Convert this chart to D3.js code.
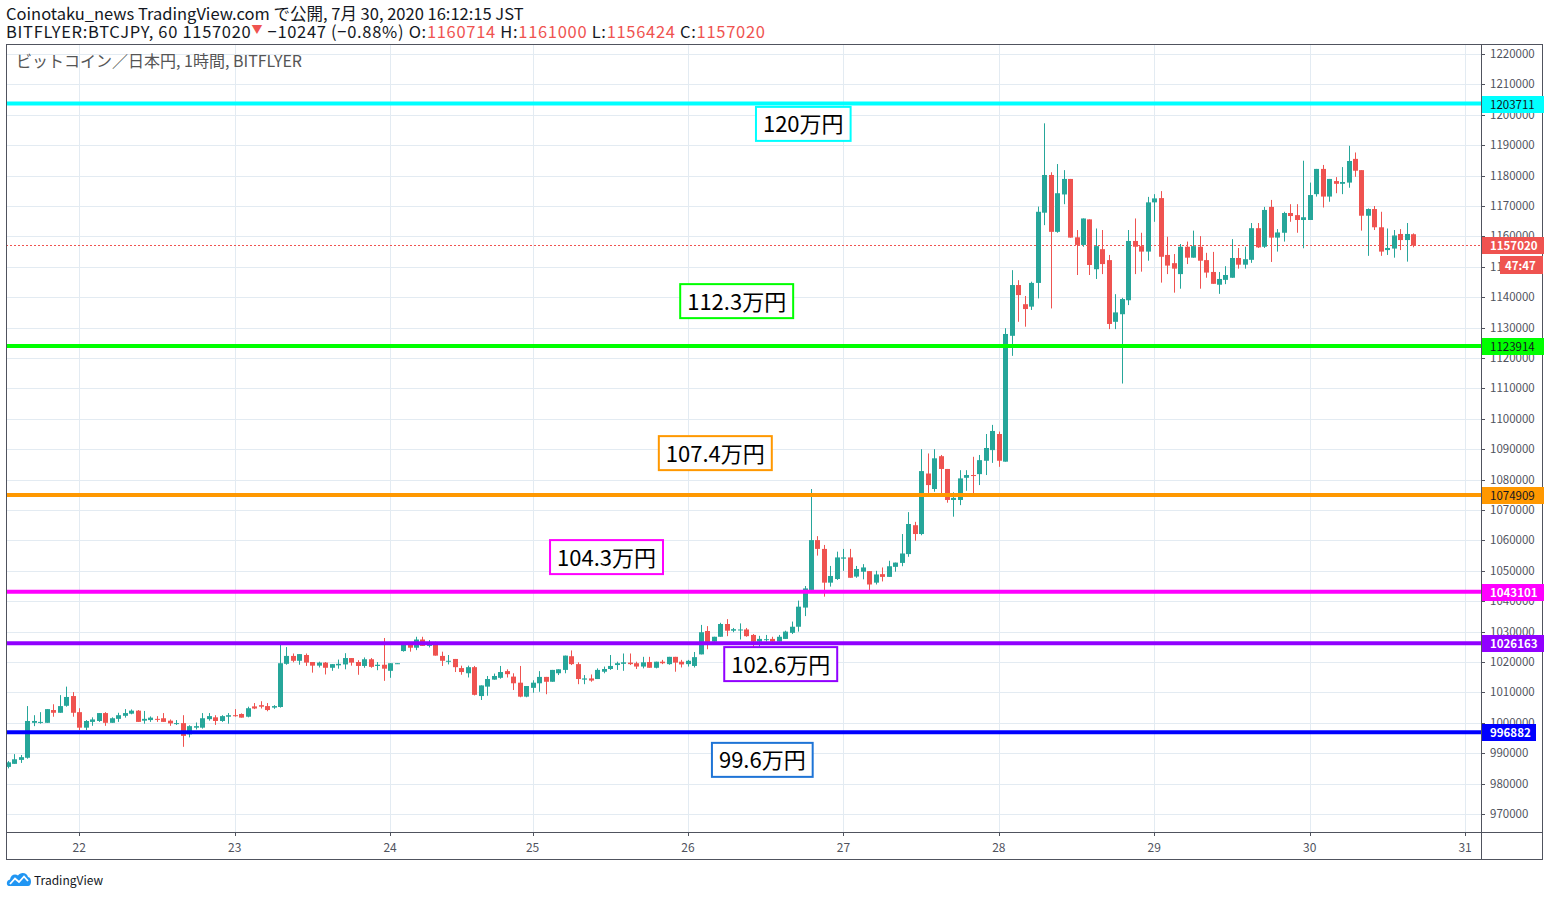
<!DOCTYPE html>
<html>
<head>
<meta charset="utf-8">
<script src="https://cdn.jsdelivr.net/npm/d3@7"></script>
<style>
body { margin: 0; background: #fff; }
svg { display: block; font-family: "Noto Sans CJK JP", "Noto Sans", sans-serif; }
</style>
</head>
<body>
<svg id="chart" width="1550" height="898"></svg>
<script>
// hourly candles, BITFLYER:BTCJPY, 21 Jul 13:00 .. 30 Jul 16:00 (JST)
var opens = [
  985500, 986500, 987800, 988500, 1000000, 1000000, 1000000, 1004200, 1003300, 1005600, 1008800,
  1003500, 998400, 1000300, 1000600, 1003200, 1000000, 1001300, 1002300, 1003000, 1004000, 1000700, 1000900, 1001300, 1001500, 1000700, 999600, 999900, 996200, 998400, 998400, 1001200, 1001800, 1000600, 1002000,
  1002500, 1002900, 1002000, 1005400, 1005800, 1005500, 1005000, 1005200, 1019400, 1022000, 1020400, 1022300, 1020000, 1018800, 1019800, 1018100, 1018900, 1019200, 1021300, 1020000, 1018700, 1020900, 1018700, 1019100,
  1017100, 1019400, 1023600, 1026100, 1024700, 1027400, 1025300, 1025600, 1022000, 1020200, 1021000, 1018000, 1016300, 1018300, 1008800, 1011900, 1014200, 1014800, 1017000, 1015200, 1013200, 1008600,
  1011500, 1013000, 1015100, 1013500, 1016300, 1017400, 1021900, 1019300, 1014200, 1014600, 1014400, 1016800, 1017700, 1019000, 1019400, 1019800, 1019600, 1018500, 1020000, 1018100, 1020100, 1019300, 1021700, 1020100,
  1019300, 1018700, 1022500, 1030200, 1026700, 1028300, 1032500, 1030300, 1030600, 1030700, 1028900, 1026700, 1027300, 1027600, 1026700, 1027600, 1029600, 1031600, 1037900, 1043700, 1060100, 1057200, 1046100, 1047300,
  1054000, 1054400, 1048100, 1049700, 1049900, 1046100, 1048900, 1048000, 1051300, 1052600, 1055500, 1065000, 1062100, 1082000, 1076900, 1087700, 1083500, 1073300, 1073300, 1080600, 1081500, 1081800, 1086200, 1089700,
  1095000, 1085900, 1127300, 1144000, 1137700, 1136900, 1144700, 1167800, 1180200, 1161500, 1173800, 1178900, 1159700, 1157200, 1165600, 1149200, 1155800, 1152200, 1131900, 1134400, 1139000, 1158500, 1156800, 1155000,
  1171200, 1172600, 1153900, 1151200, 1147600, 1156600, 1153000, 1156600, 1152200, 1148300, 1144100, 1145700, 1146400, 1152900, 1150700, 1152300, 1162700, 1156600, 1169700, 1159600, 1161200, 1167700, 1167000, 1165400,
  1165400, 1173900, 1182200, 1173100, 1178200, 1177300, 1177700, 1185500, 1181800, 1166800, 1169000, 1163000, 1155500, 1156000, 1160800, 1158800, 1160714
];
var highs = [
  987400, 989700, 989400, 1005500, 1002500, 1003500, 1004500, 1006100, 1009100, 1011900, 1010100,
  1004800, 1000900, 1001800, 1003200, 1003500, 1001800, 1003300, 1004500, 1004400, 1004200, 1003900, 1002100, 1002200, 1003200, 1001100, 1000900, 1002500, 999200, 1000100, 1003200, 1003200, 1002500, 1002500, 1003200,
  1004500, 1003100, 1005300, 1006500, 1007100, 1006500, 1005800, 1025600, 1024900, 1022800, 1022600, 1022800, 1020000, 1020100, 1020000, 1019300, 1020800, 1022900, 1021300, 1020600, 1021500, 1021300, 1020000, 1027900,
  1019600, 1019600, 1025600, 1026300, 1028300, 1028300, 1027200, 1026700, 1023400, 1022300, 1021000, 1018800, 1018800, 1018700, 1012300, 1015400, 1016200, 1018700, 1017600, 1016300, 1018700, 1012100,
  1014000, 1017000, 1015100, 1017400, 1017600, 1022100, 1023800, 1019900, 1015700, 1015900, 1017900, 1018500, 1022300, 1020100, 1022800, 1022800, 1020100, 1021700, 1021700, 1020100, 1020700, 1021700, 1021700, 1020700,
  1020700, 1023300, 1032200, 1031800, 1028300, 1032900, 1034100, 1031200, 1032700, 1031200, 1029200, 1028600, 1028900, 1028300, 1028900, 1030300, 1033300, 1040200, 1045000, 1076900, 1061400, 1058500, 1051600, 1056300,
  1057200, 1057200, 1051600, 1052200, 1049900, 1050000, 1051100, 1053300, 1052700, 1062100, 1069300, 1066100, 1090000, 1088600, 1090000, 1088100, 1083500, 1075800, 1083100, 1083100, 1087500, 1088100, 1095000, 1098000,
  1095800, 1129800, 1148900, 1145600, 1140400, 1145100, 1169800, 1197200, 1181100, 1183800, 1181800, 1178900, 1162100, 1165900, 1165600, 1162600, 1162100, 1153900, 1141000, 1139800, 1162100, 1165900, 1161200, 1173000,
  1173900, 1174900, 1159900, 1154200, 1157500, 1158300, 1161900, 1160100, 1154600, 1154900, 1148300, 1150200, 1159100, 1156200, 1156600, 1164400, 1164400, 1169700, 1172000, 1162400, 1168100, 1170600, 1170600, 1184900,
  1177700, 1182200, 1183500, 1178900, 1179500, 1182800, 1189800, 1187600, 1181800, 1169200, 1170000, 1168100, 1162600, 1162100, 1162400, 1164400, 1161000
];
var lows = [
  985000, 986500, 986800, 988200, 998900, 999700, 1000000, 1002000, 1003300, 1005300, 1002000,
  997600, 997600, 999000, 1000300, 999000, 1000000, 1000300, 1001700, 1002800, 1000300, 999700, 1000300, 1000300, 1000300, 999000, 999300, 992100, 995200, 997800, 998100, 1000700, 999300, 1000300, 999700,
  1002000, 1001700, 1001800, 1004500, 1004700, 1003800, 1004600, 1005000, 1019100, 1019900, 1019100, 1018700, 1016500, 1018200, 1015900, 1017100, 1017800, 1017600, 1018800, 1015800, 1018100, 1018100, 1017300, 1013800,
  1014800, 1019400, 1023400, 1023400, 1023900, 1025300, 1024800, 1022100, 1018700, 1019200, 1016700, 1015800, 1014900, 1009000, 1007500, 1008900, 1014200, 1014500, 1014900, 1010800, 1008400, 1008400,
  1009900, 1010200, 1009400, 1013500, 1015700, 1016300, 1019000, 1012700, 1012700, 1013500, 1014400, 1016300, 1017400, 1017400, 1017100, 1019000, 1017700, 1017900, 1018100, 1017900, 1019300, 1019100, 1016800, 1018200,
  1018500, 1018200, 1022500, 1024200, 1026700, 1028300, 1028500, 1029800, 1027400, 1028300, 1025000, 1025000, 1026700, 1026100, 1026700, 1027600, 1029200, 1030000, 1035100, 1043700, 1055000, 1041500, 1044800, 1047000,
  1050000, 1047700, 1047700, 1047200, 1043700, 1045500, 1046500, 1048000, 1049700, 1051500, 1054600, 1059900, 1061700, 1075500, 1076000, 1075500, 1072400, 1067800, 1071600, 1076300, 1075500, 1078200, 1081500, 1085500,
  1084200, 1085900, 1120700, 1131900, 1130300, 1135800, 1139600, 1163700, 1136300, 1161200, 1170600, 1159600, 1147300, 1156600, 1147300, 1146000, 1147600, 1129500, 1129500, 1111600, 1137400, 1147600, 1148400, 1152000,
  1164800, 1144800, 1147600, 1141500, 1142800, 1150900, 1153000, 1142800, 1146400, 1144400, 1141100, 1144300, 1146400, 1149400, 1149400, 1151300, 1156200, 1156200, 1151600, 1155000, 1158300, 1164800, 1161200, 1156100,
  1165400, 1173100, 1169500, 1171400, 1174200, 1173900, 1176000, 1179600, 1161900, 1153600, 1162100, 1153600, 1153900, 1153000, 1155500, 1151700, 1156424
];
var closes = [
  987000, 988000, 988700, 1000600, 1000600, 1000300, 1004500, 1003300, 1005500, 1008500, 1003300,
  998400, 1000600, 1001100, 1003200, 1000000, 1001500, 1002500, 1003200, 1004000, 1000300, 1001300, 1001700, 1001100, 1000300, 999800, 999900, 995700, 998900, 998900, 1001500, 1002200, 1000600, 1002200, 1002500,
  1002200, 1001700, 1004800, 1004700, 1005300, 1004200, 1005500, 1019600, 1022000, 1020400, 1022600, 1019800, 1018800, 1019800, 1018100, 1019300, 1019400, 1021300, 1019800, 1018700, 1020900, 1018400, 1019100, 1017800,
  1019600, 1019600, 1025600, 1024700, 1027400, 1025300, 1026100, 1022100, 1020400, 1020400, 1018300, 1016700, 1018300, 1009200, 1012300, 1014400, 1015400, 1016700, 1016000, 1013000, 1008600, 1012100,
  1013200, 1015100, 1013500, 1017400, 1017600, 1022100, 1019300, 1014400, 1014600, 1013900, 1017400, 1017700, 1018700, 1019600, 1019900, 1019300, 1018500, 1019900, 1018100, 1020100, 1019600, 1021700, 1019800, 1019200,
  1020400, 1021600, 1029800, 1025900, 1028300, 1032500, 1030300, 1030800, 1030700, 1028500, 1026700, 1027600, 1027500, 1026700, 1028300, 1030000, 1031600, 1038200, 1044200, 1060100, 1057200, 1046100, 1048300, 1054400,
  1054400, 1047700, 1050600, 1051100, 1045500, 1048800, 1048000, 1051500, 1052700, 1055700, 1065400, 1062100, 1082800, 1078200, 1087000, 1083500, 1073300, 1074000, 1080400, 1081500, 1081300, 1086400, 1090400, 1096000,
  1086200, 1127900, 1144000, 1140700, 1136100, 1144700, 1168100, 1180200, 1161500, 1174200, 1178900, 1159600, 1157200, 1165900, 1150600, 1156800, 1150900, 1131200, 1135000, 1139400, 1158500, 1156600, 1155000, 1171200,
  1172500, 1153300, 1150400, 1149400, 1156600, 1153000, 1156800, 1152000, 1148100, 1144400, 1146000, 1147300, 1152900, 1150700, 1152500, 1162700, 1156400, 1168700, 1159600, 1161300, 1167700, 1166700, 1165400, 1166300,
  1173600, 1182200, 1173100, 1178900, 1177300, 1177900, 1184800, 1181600, 1166800, 1169000, 1163000, 1155000, 1156200, 1160300, 1158800, 1160800, 1157020
];

// day labels and the bar index at which each day starts
var dayLabels = ['22', '23', '24', '25', '26', '27', '28', '29', '30', '31'];
var dayBars = [11, 35, 59, 81, 105, 129, 153, 177, 201, 225];

// horizontal levels drawn on the chart
var levels = [1203711, 1123914, 1074909, 1043101, 1026163, 996882];
var levelColors = ['#00ffff', '#00ff00', '#ff9800', '#ff00ff', '#9100ff', '#0000ff'];
var levelTextColors = ['#131722', '#131722', '#131722', '#ffffff', '#ffffff', '#ffffff'];

// text notes: label, anchor bar index, anchor price
var notes = ['120万円', '112.3万円', '107.4万円', '104.3万円', '102.6万円', '99.6万円'];
var noteBars = [115.5, 103.8, 100.5, 83.7, 110.6, 108.7];
var notePrices = [1202600, 1144300, 1094300, 1060100, 1024900, 993400];
var noteColors = ['#00ffff', '#00ff00', '#ff9800', '#ff00ff', '#9100ff', '#1e74d6'];

var GREEN = '#26a69a', RED = '#ef5350';
// frame edges (window.top is reserved, so use own names)
var frameL = 6, frameT = 44, plotR = 1481, frameR = 1543, plotB = 832, frameB = 860;

var svg = d3.select('#chart');

var x = d3.scaleLinear().domain([-0.31, 227.46]).range([frameL, plotR]);
var y = d3.scaleLinear().domain([964080, 1223290]).range([plotB, frameT]);
var yTicks = d3.range(970000, 1220001, 10000);

// grid
var grid = svg.append('g');
grid.selectAll('line.h')
    .data(yTicks)
    .enter()
    .append('line')
    .attr('x1', frameL).attr('x2', plotR)
    .attr('y1', function (d) { return Math.round(y(d)) + 0.5 })
    .attr('y2', function (d) { return Math.round(y(d)) + 0.5 })
    .attr('stroke', '#e3ebf2')
grid.selectAll('line.v')
    .data(dayBars)
    .enter()
    .append('line')
    .attr('x1', function (d) { return Math.round(x(d)) + 0.5 })
    .attr('x2', function (d) { return Math.round(x(d)) + 0.5 })
    .attr('y1', frameT).attr('y2', plotB)
    .attr('stroke', '#e3ebf2')

svg.append('clipPath').attr('id', 'plot')
    .append('rect').attr('x', frameL).attr('y', frameT).attr('width', plotR - frameL).attr('height', plotB - frameT)

var plot = svg.append('g').attr('clip-path', 'url(#plot)')

// last price dotted line
var last = closes[closes.length - 1]
plot.append('line')
    .attr('x1', frameL).attr('x2', plotR)
    .attr('y1', Math.round(y(last)) + 0.5).attr('y2', Math.round(y(last)) + 0.5)
    .attr('stroke', RED).attr('stroke-dasharray', '2,2')

// candles
var idx = d3.range(opens.length)
var candles = plot.selectAll('g.c')
    .data(idx)
    .enter()
    .append('g')
candles.append('line')
    .attr('x1', function (i) { return Math.round(x(i)) + 0.5 })
    .attr('x2', function (i) { return Math.round(x(i)) + 0.5 })
    .attr('y1', function (i) { return y(highs[i]) })
    .attr('y2', function (i) { return y(lows[i]) })
    .attr('stroke', function (i) { return closes[i] >= opens[i] ? GREEN : RED })
candles.append('rect')
    .attr('x', function (i) { return Math.round(x(i)) + 0.5 - 2.5 })
    .attr('width', 5)
    .attr('y', function (i) { return y(Math.max(opens[i], closes[i])) })
    .attr('height', function (i) { return Math.max(1, Math.abs(y(opens[i]) - y(closes[i]))) })
    .attr('fill', function (i) { return closes[i] >= opens[i] ? GREEN : RED })

// level lines
plot.selectAll('line.lv')
    .data(levels)
    .enter()
    .append('line')
    .attr('x1', frameL).attr('x2', plotR)
    .attr('y1', function (d) { return y(d) })
    .attr('y2', function (d) { return y(d) })
    .attr('stroke', function (d, i) { return levelColors[i] })
    .attr('stroke-width', 4)

// note boxes
notes.forEach(function (t, i) {
    var g = plot.append('g')
    var bx = x(noteBars[i]), by = y(notePrices[i])
    var rect = g.append('rect')
    var txt = g.append('text')
        .attr('x', bx + 7).attr('y', by + 25.5)
        .attr('font-size', 22).attr('fill', '#000')
        .text(t)
    var w = txt.node().getComputedTextLength() + 14
    rect.attr('x', bx).attr('y', by).attr('width', w).attr('height', 34)
        .attr('fill', '#fff').attr('stroke', noteColors[i]).attr('stroke-width', 2)
})

// frame and axes
svg.append('rect').attr('x', frameL + 0.5).attr('y', frameT + 0.5)
    .attr('width', frameR - frameL - 1).attr('height', frameB - frameT - 1)
    .attr('fill', 'none').attr('stroke', '#50535e')
svg.append('line').attr('x1', plotR + 0.5).attr('x2', plotR + 0.5).attr('y1', frameT).attr('y2', frameB).attr('stroke', '#50535e')
svg.append('line').attr('x1', frameL).attr('x2', frameR).attr('y1', plotB + 0.5).attr('y2', plotB + 0.5).attr('stroke', '#50535e')

var yAxis = svg.append('g')
yAxis.selectAll('line')
    .data(yTicks)
    .enter()
    .append('line')
    .attr('x1', plotR).attr('x2', plotR + 4)
    .attr('y1', function (d) { return Math.round(y(d)) + 0.5 })
    .attr('y2', function (d) { return Math.round(y(d)) + 0.5 })
    .attr('stroke', '#50535e')
yAxis.selectAll('text')
    .data(yTicks)
    .enter()
    .append('text')
    .attr('x', plotR + 9)
    .attr('y', function (d) { return y(d) + 4 })
    .attr('font-size', 11.5).attr('fill', '#50535e')
    .text(function (d) { return d })

var xAxis = svg.append('g')
xAxis.selectAll('line')
    .data(dayBars)
    .enter()
    .append('line')
    .attr('x1', function (d) { return Math.round(x(d)) + 0.5 })
    .attr('x2', function (d) { return Math.round(x(d)) + 0.5 })
    .attr('y1', plotB).attr('y2', plotB + 4)
    .attr('stroke', '#50535e')
xAxis.selectAll('text')
    .data(dayBars)
    .enter()
    .append('text')
    .attr('x', function (d) { return x(d) })
    .attr('y', plotB + 20)
    .attr('text-anchor', 'middle')
    .attr('font-size', 12).attr('fill', '#50535e')
    .text(function (d, i) { return dayLabels[i] })

// price tags on the axis
function tag(value, fill, color, w) {
    var yy = Math.round(y(value))
    svg.append('rect').attr('x', plotR + 1).attr('y', yy - 8).attr('width', w).attr('height', 17).attr('fill', fill)
    svg.append('text').attr('x', plotR + 9).attr('y', yy + 4.5)
        .attr('font-size', 11.5).attr('font-weight', color == '#ffffff' ? 'bold' : 'normal')
        .attr('fill', color).text(value)
}
levels.forEach(function (v, i) {
    tag(v, levelColors[i], levelTextColors[i], i == 5 ? 54 : 62)
})
tag(last, RED, '#ffffff', 62)
var ly = Math.round(y(last))
svg.append('rect').attr('x', 1500).attr('y', ly + 11).attr('width', 43).attr('height', 18).attr('fill', RED)
svg.append('text').attr('x', 1505).attr('y', ly + 24.5).attr('font-size', 11.5).attr('font-weight', 'bold')
    .attr('fill', '#fff').text('47:47')

// header
svg.append('text').attr('x', 6).attr('y', 20).attr('font-size', 16.5).attr('fill', '#131722')
    .text('Coinotaku_news TradingView.com で公開, 7月 30, 2020 16:12:15 JST')
var h2 = svg.append('text').attr('x', 6).attr('y', 38).attr('font-size', 16.5).attr('fill', '#131722')
    .attr('letter-spacing', 0.7)
h2.append('tspan').text('BITFLYER:BTCJPY, 60 1157020')
h2.append('tspan').attr('fill', RED).attr('font-size', 11).attr('dy', -4).text('▼')
h2.append('tspan').attr('dy', 4).text(' −10247 (−0.88%) O:')
h2.append('tspan').attr('fill', RED).text(opens[opens.length - 1])
h2.append('tspan').text(' H:')
h2.append('tspan').attr('fill', RED).text(highs[highs.length - 1])
h2.append('tspan').text(' L:')
h2.append('tspan').attr('fill', RED).text(lows[lows.length - 1])
h2.append('tspan').text(' C:')
h2.append('tspan').attr('fill', RED).text(last)

svg.append('text').attr('x', 16).attr('y', 67).attr('font-size', 16).attr('fill', '#555')
    .text('ビットコイン／日本円, 1時間, BITFLYER')

// TradingView mark
var logo = svg.append('g').attr('transform', 'translate(7,872)')
logo.append('path')
    .attr('d', 'M2,14 C-1,14 -1,8 3,7.5 C3.5,3 8,1 11,3.5 C13,0 20,0 21,5 C25,5.5 25,14 21,14 Z')
    .attr('fill', '#2196f3')
logo.append('path')
    .attr('d', 'M3,12 L8,6.5 L12,10 L17,4.5 L21,9')
    .attr('fill', 'none').attr('stroke', '#fff').attr('stroke-width', 1.8)
svg.append('text').attr('x', 34).attr('y', 885).attr('font-size', 12).attr('fill', '#131722').text('TradingView')
</script>
</body>
</html>
